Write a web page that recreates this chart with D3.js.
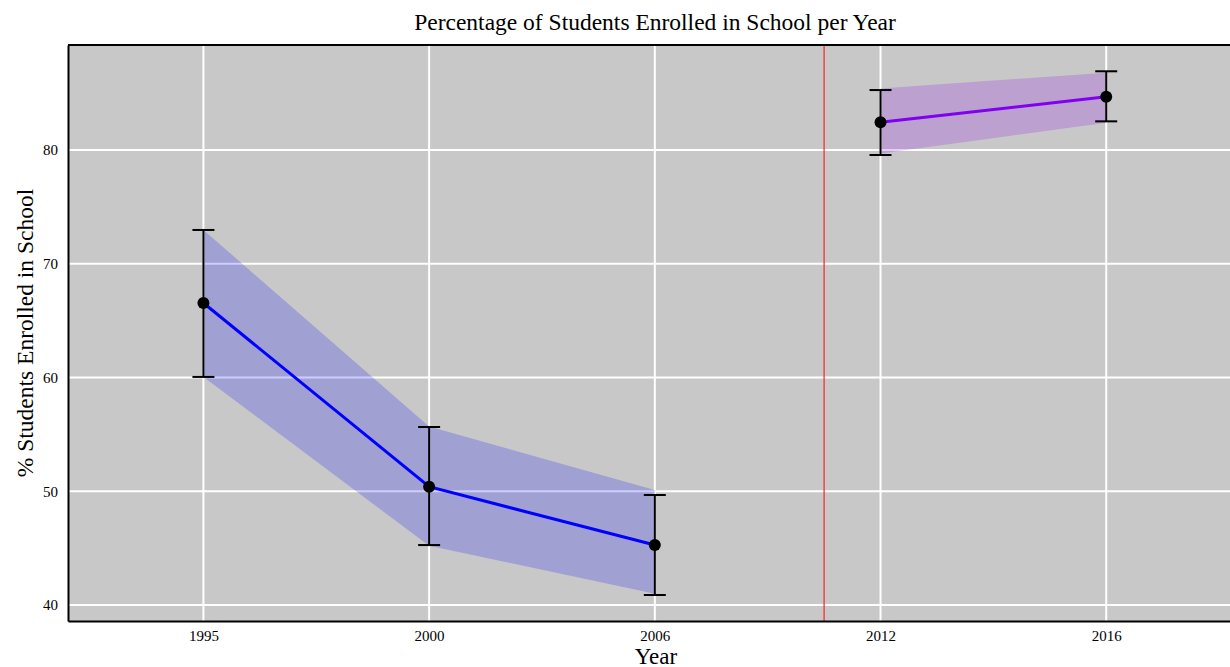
<!DOCTYPE html>
<html>
<head>
<meta charset="utf-8">
<script src="https://cdn.jsdelivr.net/npm/d3@7"></script>
<style>
  html, body { margin: 0; padding: 0; background: #fff; }
  svg { display: block; }
  text { font-family: "Liberation Serif", "DejaVu Serif", serif; fill: #000; }
</style>
</head>
<body>
<svg id="chart" width="1230" height="667"></svg>
<script>
// Survey years, shown as evenly spaced categories
const years = ["1995", "2000", "2006", "2012", "2016"];
// Group each year belongs to (before / after the break)
const groups = ["early", "early", "early", "late", "late"];
// Mean enrolment (%)
const means = [66.55, 50.4, 45.27, 82.43, 84.69];
// Error bar bounds (%)
const lower = [60.05, 45.27, 40.88, 79.56, 82.52];
const upper = [72.97, 55.65, 49.67, 85.27, 86.92];
// Confidence band bounds (%)
const bandLower = [60.05, 45.2, 41.0, 79.7, 82.4];
const bandUpper = [72.97, 55.7, 50.1, 85.4, 86.8];
// Y axis ticks
const yTicks = [40, 50, 60, 70, 80];
// Position of the vertical break marker (between 2006 and 2012)
const breakPos = 3.75;

const svg = d3.select("#chart");
const padL = 68, padT = 45, padB = 621;
const serif = "Liberation Serif, DejaVu Serif, serif";

const x = d3.scaleLinear().domain([0.4, 5.6]).range([padL, padL + 5.2 * 225.7]);
// 10 percentage points span 113.75 px; 40 sits at y = 605
const pxPerUnit = 11.375;
const y = d3.scaleLinear()
  .domain([40 - (padB - 605) / pxPerUnit, 40 + (605 - padT) / pxPerUnit])
  .range([padB, padT]);

const rows = years.map((yr, i) => ({
  i: i + 1, year: yr, group: groups[i], mean: means[i],
  lo: lower[i], hi: upper[i], blo: bandLower[i], bhi: bandUpper[i]
}));

const colors = {
  early: { line: "#0000ff", band: "rgba(0,0,255,0.195)" },
  late: { line: "#8000f0", band: "rgba(140,0,240,0.2)" }
};

// panel background
svg.append("rect")
  .attr("x", padL).attr("y", padT)
  .attr("width", 1230 - padL).attr("height", padB - padT)
  .attr("fill", "#c8c8c8");

// grid lines
const grid = svg.append("g");
grid.selectAll("line.h").data(yTicks).join("line")
  .attr("x1", padL).attr("x2", 1230)
  .attr("y1", d => y(d)).attr("y2", d => y(d))
  .attr("stroke", "#fff").attr("stroke-width", 2);
grid.selectAll("line.v").data(rows).join("line")
  .attr("x1", d => x(d.i)).attr("x2", d => x(d.i))
  .attr("y1", padT).attr("y2", padB)
  .attr("stroke", "#fff").attr("stroke-width", 2);

// bands and lines per group
const area = d3.area().x(d => x(d.i)).y0(d => y(d.blo)).y1(d => y(d.bhi));
const line = d3.line().x(d => x(d.i)).y(d => y(d.mean));
for (const g of ["early", "late"]) {
  const data = rows.filter(r => r.group === g);
  svg.append("path").datum(data).attr("d", area).attr("fill", colors[g].band);
  svg.append("path").datum(data).attr("d", line)
    .attr("fill", "none").attr("stroke", colors[g].line).attr("stroke-width", 3);
}

// break marker
svg.append("line")
  .attr("x1", x(breakPos)).attr("x2", x(breakPos))
  .attr("y1", padT).attr("y2", padB)
  .attr("stroke", "#ff2020").attr("stroke-width", 1.2);

// error bars
const eb = svg.append("g").attr("stroke", "#000").attr("stroke-width", 2);
eb.selectAll("line.stem").data(rows).join("line")
  .attr("x1", d => x(d.i)).attr("x2", d => x(d.i))
  .attr("y1", d => y(d.lo)).attr("y2", d => y(d.hi));
eb.selectAll("line.cap-hi").data(rows).join("line")
  .attr("x1", d => x(d.i) - 11).attr("x2", d => x(d.i) + 11)
  .attr("y1", d => y(d.hi)).attr("y2", d => y(d.hi));
eb.selectAll("line.cap-lo").data(rows).join("line")
  .attr("x1", d => x(d.i) - 11).attr("x2", d => x(d.i) + 11)
  .attr("y1", d => y(d.lo)).attr("y2", d => y(d.lo));

// points
svg.selectAll("circle.pt").data(rows).join("circle")
  .attr("cx", d => x(d.i)).attr("cy", d => y(d.mean)).attr("r", 6)
  .attr("fill", "#000");

// panel frame: top edge
svg.append("line")
  .attr("x1", padL).attr("x2", 1230).attr("y1", padT).attr("y2", padT)
  .attr("stroke", "#000").attr("stroke-width", 2);

// axes
const xAxis = d3.axisBottom(x).tickValues(rows.map(r => r.i))
  .tickFormat(d => years[d - 1]).tickSize(0).tickPadding(9);
const gx = svg.append("g").attr("transform", `translate(0,${padB})`).call(xAxis);
gx.attr("font-family", serif).attr("font-size", 15);
gx.select(".domain").attr("stroke", "#000").attr("stroke-width", 2);

const yAxis = d3.axisLeft(y).tickValues(yTicks).tickSize(0).tickPadding(10);
const gy = svg.append("g").attr("transform", `translate(${padL},0)`).call(yAxis);
gy.attr("font-family", serif).attr("font-size", 15);
gy.select(".domain").attr("stroke", "#000").attr("stroke-width", 2);

// titles
svg.append("text").attr("x", 655).attr("y", 30)
  .attr("text-anchor", "middle").attr("font-size", 23.5)
  .text("Percentage of Students Enrolled in School per Year");
svg.append("text").attr("x", 656).attr("y", 664)
  .attr("text-anchor", "middle").attr("font-size", 23)
  .text("Year");
svg.append("text")
  .attr("transform", "translate(33,333) rotate(-90)")
  .attr("text-anchor", "middle").attr("font-size", 23.5)
  .text("% Students Enrolled in School");
</script>
</body>
</html>
